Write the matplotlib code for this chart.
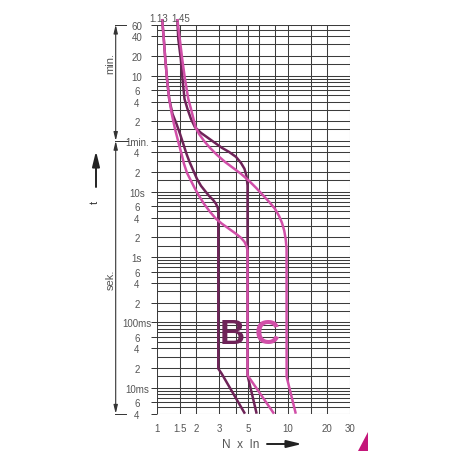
import matplotlib.pyplot as plt
from matplotlib.patches import Polygon, FancyArrowPatch

# ===== DATA =====
# x axis: multiples of rated current, y axis: tripping time in seconds
x_ticks = [1, 1.5, 2, 3, 5, 10, 20, 30]
x_tick_labels = ["1", "1.5", "2", "3", "5", "10", "20", "30"]

y_ticks = [3600, 2400, 1200, 600, 360, 240, 120, 60, 40, 20, 10, 6, 4, 2, 1,
           0.6, 0.4, 0.2, 0.1, 0.06, 0.04, 0.02, 0.01, 0.006, 0.004]
y_tick_labels = ["60", "40", "20", "10", "6", "4", "2", "1min.", "4", "2", "10s",
                 "6", "4", "2", "1s", "6", "4", "2", "100ms", "6", "4", "2",
                 "10ms", "6", "4"]

grid_x = [1, 1.5, 2, 3, 4, 5, 6, 8, 10, 15, 20, 30]
grid_y = [3600, 3000, 2400, 1800, 1200, 900, 600, 540, 480, 420, 360, 300, 240,
          180, 120, 90, 60, 50, 40, 30, 20, 15, 10, 9, 8, 7, 6, 5, 4, 3, 2, 1.5,
          1, 0.9, 0.8, 0.7, 0.6, 0.5, 0.4, 0.3, 0.2, 0.15,
          0.1, 0.09, 0.08, 0.07, 0.06, 0.05, 0.04, 0.03, 0.02, 0.015,
          0.01, 0.009, 0.008, 0.007, 0.006, 0.005, 0.004]

# B characteristic (lower / upper limit)
b_lower_n = [1.095, 1.127, 1.157, 1.193, 1.240, 1.314, 1.410, 1.50, 1.589,
             1.682, 1.773, 1.886, 2.023, 2.171, 2.33, 2.50, 2.683, 2.828, 2.919,
             2.944, 2.944, 3.126, 4.71]
b_lower_t = [4400, 2175, 1076, 532, 263, 155, 109.2, 76.8, 54.0,
             37.9, 28.6, 21.6, 15.7, 12.3, 10.3, 8.65, 7.52, 6.53, 5.67,
             4.75, 0.0196, 0.0164, 0.004]
b_upper_n = [1.43, 1.455, 1.521, 1.567, 1.624, 1.711, 1.820, 1.953, 2.171, 2.456,
             2.778, 3.142, 3.555, 4.021, 4.393, 4.673, 4.84, 4.93, 4.93, 5.79]
b_upper_t = [4400, 2175, 1076, 532, 263, 185, 130.2, 97, 79.5, 66.7,
             55.9, 46.9, 40.7, 34.2, 27.6, 22.4, 17.5, 12.4, 0.0155, 0.004]

# C characteristic (lower / upper limit)
c_lower_n = [1.095, 1.127, 1.157, 1.193, 1.240, 1.298, 1.373, 1.469, 1.541, 1.609,
             1.697, 1.804, 1.936, 2.096, 2.289, 2.544, 2.828, 3.142, 3.555, 4.021,
             4.393, 4.673, 4.849, 4.93, 4.93, 7.86]
c_lower_t = [4400, 2175, 1076, 532, 263, 155, 91.5, 54.0, 37.9, 26.7,
             19.4, 15.2, 11.5, 8.65, 6.53, 4.92, 3.85, 3.23, 2.71, 2.27,
             1.97, 1.71, 1.46, 1.25, 0.0155, 0.004]
c_upper_n = [1.43, 1.494, 1.559, 1.637, 1.736, 1.820, 1.902, 1.970, 2.096, 2.289,
             2.544, 2.878, 3.314, 3.815, 4.393, 5.057, 5.721, 6.507, 7.322, 7.994,
             8.580, 9.046, 9.42, 9.671, 9.81, 9.82, 11.54]
c_upper_t = [4400, 2175, 1076, 532, 263, 185, 130.2, 97, 76.8, 60.0,
             46.9, 36.6, 28.6, 23.2, 18.8, 14.7, 11.5, 8.74, 6.76, 5.47,
             4.28, 3.34, 2.52, 1.84, 1.34, 0.0147, 0.004]

DARK = "#6e2358"
PINK = "#d14fa8"
TXT = "#555555"

plt.rcParams['font.family'] = ['Liberation Sans Narrow', 'Liberation Sans', 'DejaVu Sans']

W = 452.0
fig = plt.figure(figsize=(4.52, 4.52), dpi=100)
x0, x1, y0, y1 = 157, 350, 25.7, 414.7
ax = fig.add_axes([x0 / W, 1 - y1 / W, (x1 - x0) / W, (y1 - y0) / W])
ax.set_xscale('log')
ax.set_yscale('log')
ax.set_xlim(1, 30)
ax.set_ylim(0.004, 3600)

# ===== GRID =====
for v in grid_y:
    ax.axhline(v, color="#3c3c3c", lw=0.75, zorder=1)
for v in grid_x:
    ax.axvline(v, color="#3c3c3c", lw=0.75, zorder=1)
for s in ax.spines.values():
    s.set_visible(False)

# ===== CURVES =====
style = dict(lw=1.8, clip_on=False, solid_joinstyle='round', solid_capstyle='butt')
ax.plot(b_lower_n, b_lower_t, color=DARK, zorder=3, **style)
ax.plot(b_upper_n, b_upper_t, color=DARK, zorder=3, **style)
ax.plot(c_lower_n, c_lower_t, color=PINK, zorder=4, **style)
ax.plot(c_upper_n, c_upper_t, color=PINK, zorder=4, **style)

ax.text(3.78, 0.0672, "B", color=DARK, fontsize=25, fontweight='bold',
        ha='center', va='center', zorder=5)
ax.text(6.94, 0.0672, "C", color=PINK, fontsize=25, fontweight='bold',
        ha='center', va='center', zorder=5)

# ===== TICKS =====
ax.minorticks_off()
ax.set_xticks(x_ticks, x_tick_labels)
ax.set_yticks(y_ticks, y_tick_labels)
ax.tick_params(axis='x', length=0, pad=6.5, labelsize=7, labelcolor=TXT)
ax.tick_params(axis='y', length=4.5, width=0.7, color="#333333", pad=10,
               labelsize=7, labelcolor=TXT)
for lab in ax.get_yticklabels():
    lab.set_horizontalalignment('center')

# ===== LEFT ANNOTATIONS =====
yax = ax.get_yaxis_transform()
def ax_x(px):
    return (px - x0) / (x1 - x0)

ax.plot([ax_x(115), ax_x(126)], [3600, 3600], color="#333333", lw=0.7,
        transform=yax, clip_on=False)
ax.plot([ax_x(115), ax_x(128)], [60, 60], color="#333333", lw=0.7,
        transform=yax, clip_on=False)
ax.plot([ax_x(115), ax_x(126)], [0.004, 0.004], color="#333333", lw=0.7,
        transform=yax, clip_on=False)
arrow = dict(arrowstyle="<|-|>,head_length=0.5,head_width=0.12", color="#333333",
             lw=0.8, shrinkA=0, shrinkB=0)
ax.annotate("", xy=(ax_x(115.7), 3600), xytext=(ax_x(115.7), 60),
            xycoords=yax, textcoords=yax, arrowprops=arrow)
ax.annotate("", xy=(ax_x(115.7), 60), xytext=(ax_x(115.7), 0.004),
            xycoords=yax, textcoords=yax, arrowprops=arrow)
fig.text(110.5 / W, 1 - 64 / W, "min.", rotation=90, fontsize=8, color=TXT,
         ha='center', va='center')
fig.text(110.5 / W, 1 - 280 / W, "sek.", rotation=90, fontsize=8, color=TXT,
         ha='center', va='center')

fig.text(95 / W, 1 - 202 / W, "t", rotation=90, fontsize=8, color="#333333",
         ha='center', va='center')
fig.add_artist(FancyArrowPatch(
    (96 / W, 1 - 188 / W), (96 / W, 1 - 152 / W), transform=fig.transFigure,
    arrowstyle="-|>,head_length=9,head_width=2.2", color="#222222", lw=1.4,
    mutation_scale=1, shrinkA=0, shrinkB=0))

# ===== TOP / BOTTOM LABELS =====
fig.text(159 / W, 1 - 19 / W, "1.13", fontsize=7, color=TXT, ha='center', va='center')
fig.text(181 / W, 1 - 19 / W, "1.45", fontsize=7, color=TXT, ha='center', va='center')

fig.text(241 / W, 1 - 445 / W, "N  x  In", fontsize=8.5, color=TXT,
         ha='center', va='center')
fig.add_artist(FancyArrowPatch(
    (267 / W, 1 - 445 / W), (302 / W, 1 - 445 / W), transform=fig.transFigure,
    arrowstyle="-|>,head_length=9,head_width=2.2", color="#222222", lw=1.4,
    mutation_scale=1, shrinkA=0, shrinkB=0))

# decorative corner
fig.add_artist(Polygon([(358 / W, 0), (368 / W, 19 / W), (368 / W, 0)],
                       closed=True, transform=fig.transFigure,
                       facecolor="#c4167a", edgecolor='none'))

fig.savefig("out.png", dpi=100)
